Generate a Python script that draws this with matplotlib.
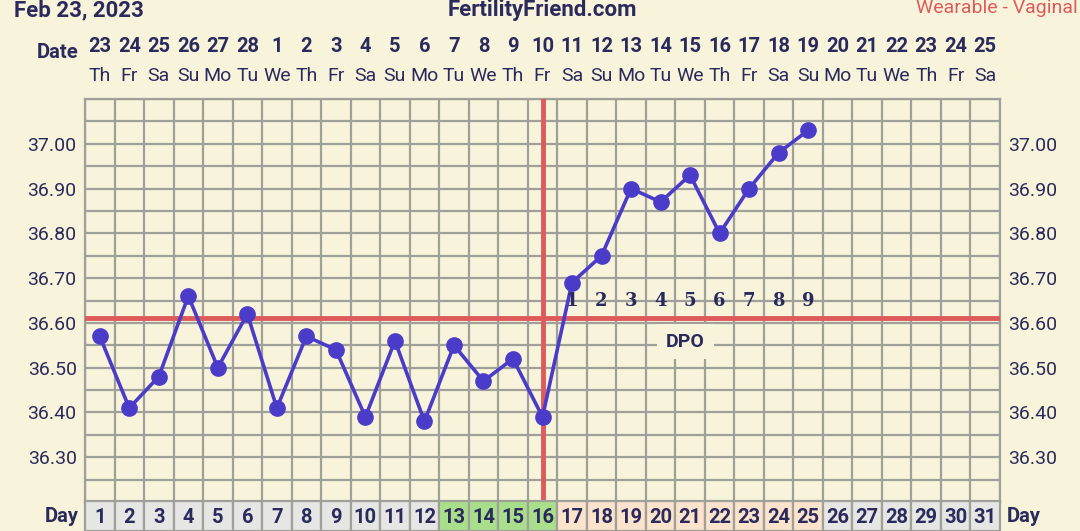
import numpy as np
import matplotlib.pyplot as plt
import matplotlib.transforms as mtransforms
from matplotlib.patches import Rectangle

plt.rcParams['font.family'] = ['Roboto', 'DejaVu Sans']

# ---- data ----
cycle_days = list(range(1, 32))
dates = [23, 24, 25, 26, 27, 28, 1, 2, 3, 4, 5, 6, 7, 8, 9, 10, 11, 12, 13,
         14, 15, 16, 17, 18, 19, 20, 21, 22, 23, 24, 25]
weekdays = ['Th', 'Fr', 'Sa', 'Su', 'Mo', 'Tu', 'We', 'Th', 'Fr', 'Sa', 'Su',
            'Mo', 'Tu', 'We', 'Th', 'Fr', 'Sa', 'Su', 'Mo', 'Tu', 'We', 'Th',
            'Fr', 'Sa', 'Su', 'Mo', 'Tu', 'We', 'Th', 'Fr', 'Sa']
temp_days = list(range(1, 26))
temps = [36.57, 36.41, 36.48, 36.66, 36.50, 36.62, 36.41, 36.57, 36.54, 36.39,
         36.56, 36.38, 36.55, 36.47, 36.52, 36.39, 36.69, 36.75, 36.90, 36.87,
         36.93, 36.80, 36.90, 36.98, 37.03]
coverline = 36.61
ovulation_day = 16
fertile_days = [13, 14, 15, 16]
dpo_days = list(range(17, 26))
dpo_labels = [str(i) for i in range(1, 10)]
ytick_vals = [36.30, 36.40, 36.50, 36.60, 36.70, 36.80, 36.90, 37.00]

# ---- style ----
bg = '#f8f4dc'
navy = '#2b2a5c'
grid_c = '#a0a09a'
line_c = '#4a3cc8'
red_c = '#de5b5b'
grey_cell = '#e6e6e4'
green_cell = '#a9df8a'
peach_cell = '#fde3cb'

W, H = 1080, 531
fig = plt.figure(figsize=(W / 100, H / 100), dpi=100, facecolor=bg)

left, right, top, bottom = 85, 1000, 99, 502
ax = fig.add_axes([left / W, (H - bottom) / H, (right - left) / W, (bottom - top) / H])
ax.set_facecolor(bg)
ax.set_xlim(0.5, 31.5)
ax.set_ylim(36.20, 37.10)

# grid
grid_y = np.round(np.arange(36.20, 37.101, 0.05), 2)
ax.set_xticks(np.arange(0.5, 32, 1))
ax.set_xticklabels([])
ax.set_yticks(grid_y)
ax.set_yticklabels(['%.2f' % v if any(abs(v - t) < 1e-6 for t in ytick_vals) else ''
                    for v in grid_y])
ax.grid(True, color=grid_c, linewidth=1.6)
ax.tick_params(axis='both', length=0, colors=navy)
ax.tick_params(axis='y', labelsize=14, labelright=True, pad=6)
for s in ax.spines.values():
    s.set_color(grid_c)
    s.set_linewidth(1.6)

# coverline and ovulation line
ax.axhline(coverline, color=red_c, linewidth=3.5, zorder=3)
ax.axvline(ovulation_day, color=red_c, linewidth=3.5, zorder=3)

# temperatures
ax.plot(temp_days, temps, color=line_c, linewidth=2.6, marker='o',
        markersize=11, zorder=5, clip_on=False)

# DPO labels
for d, lab in zip(dpo_days, dpo_labels):
    ax.text(d, 36.648, lab, ha='center', va='center', fontsize=13,
            fontweight='bold', family='DejaVu Serif', color=navy, zorder=6)
ax.text(20.85, 36.558, 'DPO', ha='center', va='center', fontsize=14,
        fontweight='bold', color=navy, zorder=6,
        bbox=dict(boxstyle='square,pad=0.45', facecolor=bg, edgecolor='none'))

# top date header
trans_top = mtransforms.blended_transform_factory(ax.transData, fig.transFigure)
for d, dt, wd in zip(cycle_days, dates, weekdays):
    ax.text(d, 1 - 46 / H, str(dt), transform=trans_top, ha='center', va='center',
            fontsize=14.5, fontweight='bold', color=navy)
    ax.text(d, 1 - 76 / H, wd, transform=trans_top, ha='center', va='center',
            fontsize=14, color=navy)
fig.text(58 / W, 1 - 52 / H, 'Date', ha='center', va='center', fontsize=14.5,
         fontweight='bold', color=navy)

fig.text(14 / W, 1 - 10 / H, 'Feb 23, 2023', ha='left', va='center',
         fontsize=16, fontweight='bold', color=navy)
fig.text(542 / W, 1 - 10 / H, 'FertilityFriend.com', ha='center', va='center',
         fontsize=16, fontweight='bold', color=navy)
fig.text(1078 / W, 1 - 8 / H, 'Wearable - Vaginal', ha='right', va='center',
         fontsize=14, color=red_c)

# day row
axd = fig.add_axes([left / W, 0, (right - left) / W, (H - bottom) / H])
axd.set_xlim(0.5, 31.5)
axd.set_ylim(0, 1)
axd.axis('off')
for d in cycle_days:
    if d in fertile_days:
        c = green_cell
    elif d in dpo_days:
        c = peach_cell
    else:
        c = grey_cell
    axd.add_patch(Rectangle((d - 0.5, 0), 1, 1.05, facecolor=c, edgecolor=grid_c,
                            linewidth=1.6, clip_on=False))
    axd.text(d, 0.48, str(d), ha='center', va='center', fontsize=14.5,
             fontweight='bold', color=navy)
fig.text(62 / W, 15 / H, 'Day', ha='center', va='center', fontsize=14.5,
         fontweight='bold', color=navy)
fig.text(1024 / W, 15 / H, 'Day', ha='center', va='center', fontsize=14.5,
         fontweight='bold', color=navy)

fig.savefig('out.png', dpi=100, facecolor=bg)
